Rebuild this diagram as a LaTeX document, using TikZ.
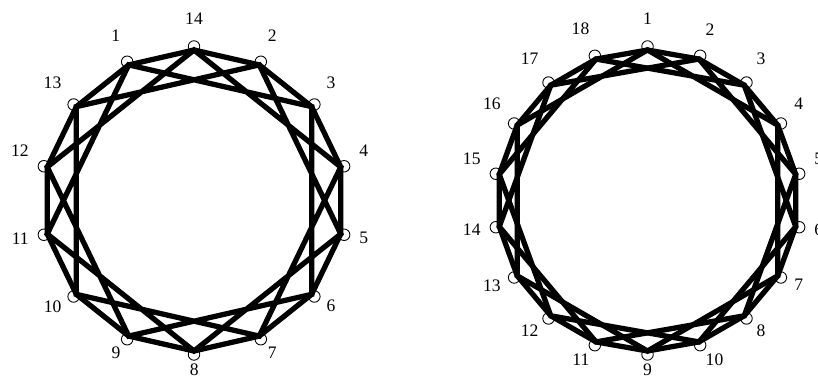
\documentclass[tikz,border=0pt]{standalone}
\usepackage{fontspec}
\setmainfont{Liberation Serif}
\tikzset{
  vtx/.style={circle, draw, line width=0.5pt, minimum size=0.23cm, inner sep=0pt},
  edge/.style={line width=3pt, line join=miter},
  lbl/.style={font=\fontsize{10}{12}\selectfont, inner sep=0pt, yshift=0.12cm}
}

\begin{document}
\begin{tikzpicture}[x=0.02cm, y=0.02cm, label distance=0.18cm]
\useasboundingbox (0,0) rectangle (818,378);
% left graph: 14 vertices, jumps 1 and 3
\begin{scope}[shift={(194,177.5)}]
\foreach \t [count=\k from 0, evaluate=\k as \a using 90-360/14*\k] in {14,2,3,4,5,6,7,8,9,10,11,12,13,1} {
  \node[vtx, label={[lbl]\a:\t}] (c\k) at (\a:154) {};
  \coordinate (L\k) at (\a:150.5);
}
\draw[edge] (L0) \foreach \k in {1,...,13} { -- (L\k) } -- cycle;
\draw[edge] (L0) \foreach \k [evaluate=\k as \j using {int(mod(3*\k,14))}] in {1,...,13} { -- (L\j) } -- cycle;
\end{scope}
% right graph: 18 vertices, jumps 1 and 3
\begin{scope}[shift={(647.5,177.5)}]
\foreach \t [count=\k from 0, evaluate=\k as \a using 90-20*\k] in {1,2,3,4,5,6,7,8,10,9,11,12,13,14,15,16,17,18} {
  \node[vtx, label={[lbl]\a:\t}] (d\k) at (\a:154) {};
  \coordinate (R\k) at (\a:150.5);
}
\draw[edge] (R0) \foreach \k in {1,...,17} { -- (R\k) } -- cycle;
\foreach \s in {0,1,2}
  \draw[edge] (R\s) \foreach \k [evaluate=\k as \j using {int(\s+3*\k)}] in {1,...,5} { -- (R\j) } -- cycle;
\end{scope}
\end{tikzpicture}
\end{document}
